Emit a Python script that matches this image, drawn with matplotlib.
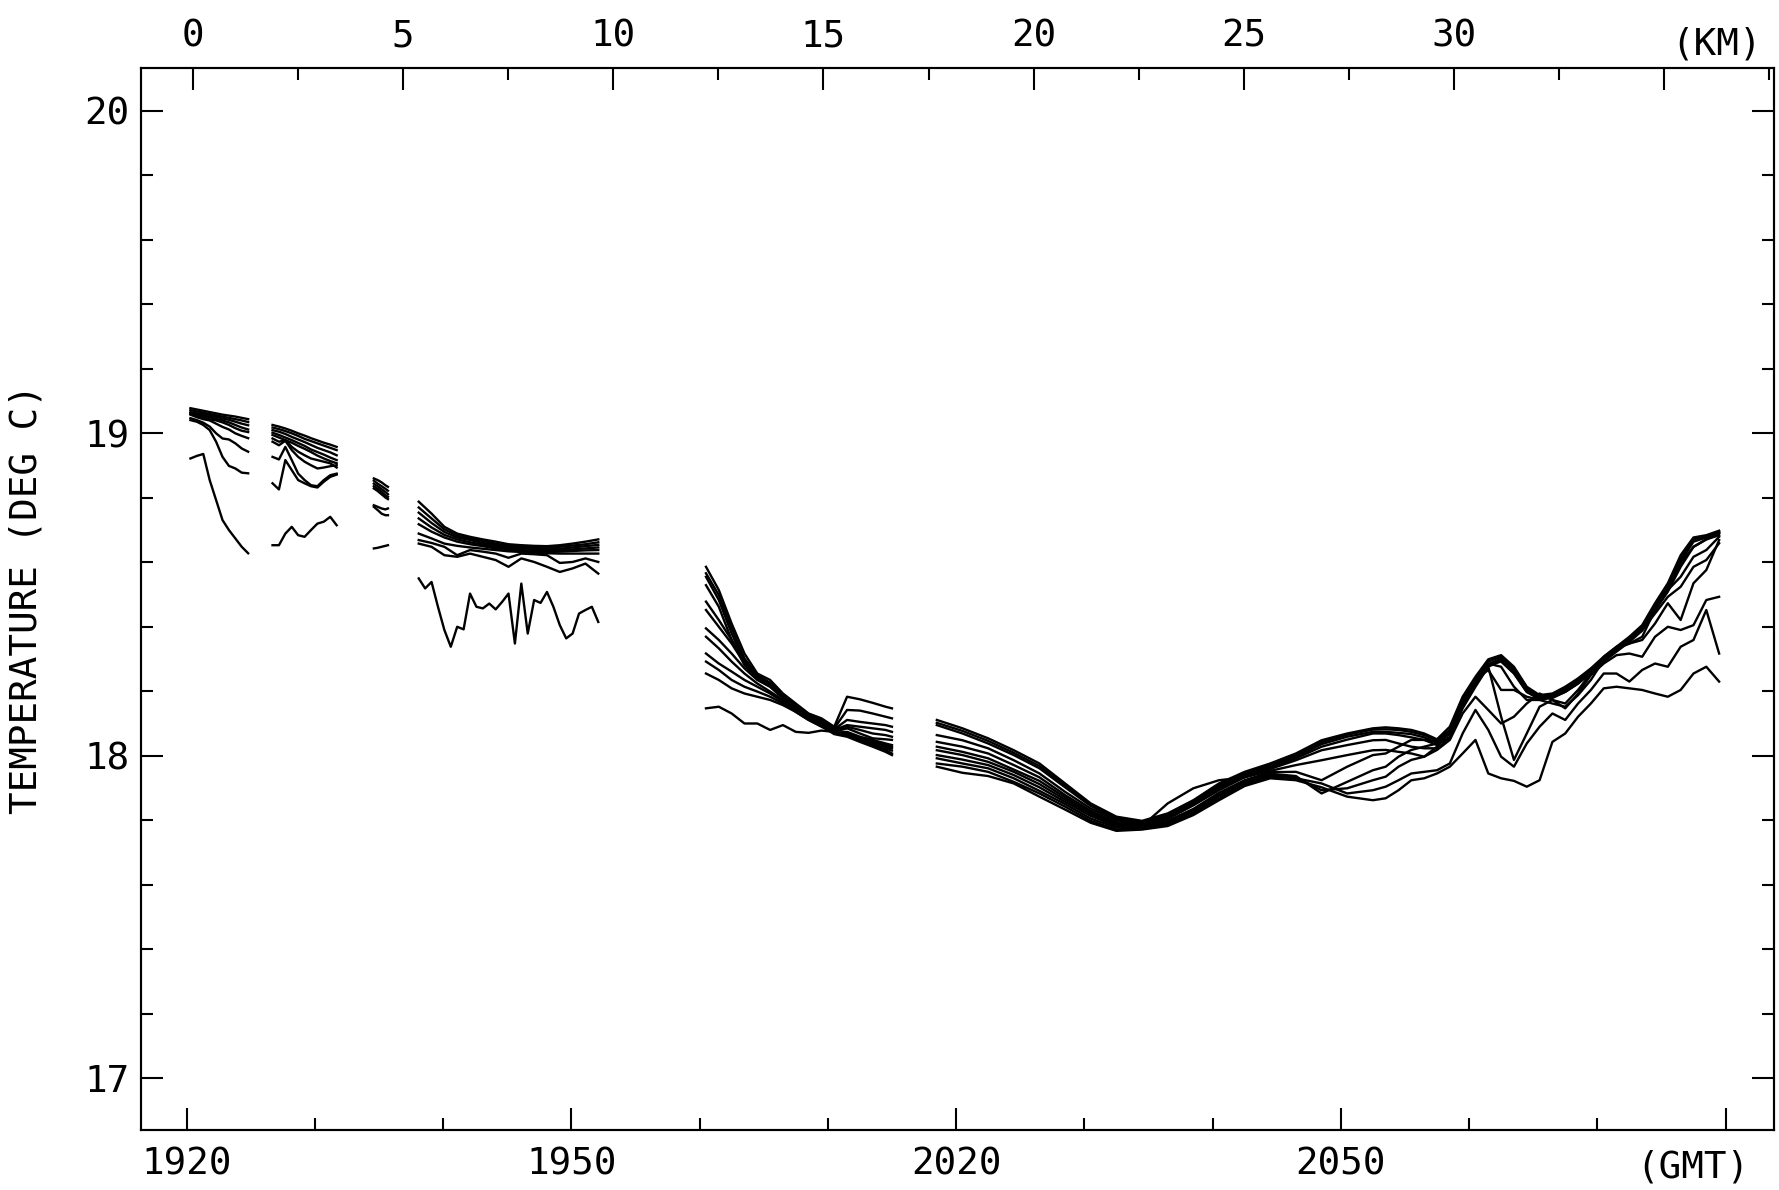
import matplotlib

matplotlib.use("Agg")
import matplotlib.pyplot as plt
from matplotlib.ticker import FixedLocator, MultipleLocator

# time axis in minutes after 19:00 GMT, temperature in deg C
# each segment: one time array, one row per sensor depth

seg_a_t = [20.3, 20.8, 21.3, 21.8, 22.3, 22.8, 23.3, 23.8, 24.3, 24.8]
seg_a = [
    [19.078, 19.074, 19.070, 19.066, 19.062, 19.058, 19.055, 19.052, 19.048, 19.044],
    [19.072, 19.068, 19.064, 19.060, 19.056, 19.052, 19.048, 19.044, 19.040, 19.035],
    [19.066, 19.062, 19.060, 19.055, 19.051, 19.046, 19.042, 19.036, 19.030, 19.025],
    [19.062, 19.058, 19.055, 19.050, 19.045, 19.040, 19.034, 19.026, 19.018, 19.012],
    [19.060, 19.054, 19.050, 19.044, 19.040, 19.034, 19.026, 19.016, 19.008, 19.004],
    [19.058, 19.050, 19.044, 19.040, 19.030, 19.020, 19.012, 19.000, 18.992, 18.985],
    [19.047, 19.041, 19.033, 19.021, 19.000, 18.984, 18.981, 18.969, 18.953, 18.943],
    [19.041, 19.036, 19.026, 19.010, 18.974, 18.927, 18.899, 18.891, 18.878, 18.876],
    [18.922, 18.930, 18.936, 18.855, 18.793, 18.731, 18.700, 18.674, 18.648, 18.628],
]

seg_b_t = [26.7, 27.2, 27.7, 28.2, 28.7, 29.2, 29.7, 30.2, 30.7, 31.2, 31.7]
seg_b = [
    [19.026, 19.021, 19.015, 19.008, 19.000, 18.993, 18.985, 18.978, 18.971, 18.965, 18.958],
    [19.018, 19.013, 19.007, 19.000, 18.992, 18.983, 18.976, 18.969, 18.962, 18.955, 18.948],
    [19.010, 19.005, 18.998, 18.989, 18.981, 18.973, 18.964, 18.955, 18.948, 18.941, 18.932],
    [19.002, 18.995, 18.987, 18.979, 18.970, 18.961, 18.950, 18.942, 18.934, 18.925, 18.917],
    [18.995, 18.987, 18.979, 18.971, 18.961, 18.952, 18.942, 18.931, 18.922, 18.914, 18.907],
    [18.984, 18.974, 18.979, 18.958, 18.943, 18.932, 18.922, 18.917, 18.912, 18.907, 18.894],
    [18.974, 18.963, 18.977, 18.948, 18.927, 18.912, 18.901, 18.891, 18.894, 18.898, 18.901],
    [18.927, 18.919, 18.958, 18.917, 18.875, 18.855, 18.839, 18.836, 18.855, 18.870, 18.875],
    [18.845, 18.826, 18.917, 18.886, 18.855, 18.845, 18.836, 18.832, 18.850, 18.865, 18.872],
    [18.653, 18.653, 18.689, 18.710, 18.684, 18.679, 18.700, 18.720, 18.726, 18.741, 18.715],
]

seg_c_t = [34.6, 34.9, 35.2, 35.5, 35.7]
seg_c = [
    [18.860, 18.855, 18.848, 18.839, 18.834],
    [18.853, 18.844, 18.836, 18.828, 18.822],
    [18.844, 18.836, 18.827, 18.818, 18.811],
    [18.836, 18.828, 18.819, 18.808, 18.803],
    [18.829, 18.821, 18.811, 18.801, 18.796],
    [18.777, 18.772, 18.767, 18.764, 18.767],
    [18.772, 18.762, 18.751, 18.746, 18.746],
    [18.643, 18.645, 18.648, 18.651, 18.653],
]

seg_d_t = [38.1, 39.1, 40.1, 41.1, 42.1, 43.1, 44.1, 45.1, 46.1, 47.1, 48.1, 49.1, 50.1, 51.1, 52.1]
seg_d = [
    [18.788, 18.751, 18.710, 18.689, 18.679, 18.671, 18.664, 18.656, 18.653, 18.651, 18.650, 18.653, 18.658, 18.664, 18.671],
    [18.770, 18.736, 18.702, 18.683, 18.674, 18.666, 18.658, 18.651, 18.648, 18.646, 18.645, 18.648, 18.652, 18.656, 18.662],
    [18.754, 18.722, 18.694, 18.677, 18.669, 18.660, 18.653, 18.646, 18.643, 18.641, 18.640, 18.642, 18.646, 18.650, 18.654],
    [18.736, 18.708, 18.685, 18.671, 18.662, 18.655, 18.648, 18.641, 18.638, 18.636, 18.635, 18.637, 18.640, 18.643, 18.646],
    [18.718, 18.695, 18.677, 18.664, 18.656, 18.650, 18.643, 18.637, 18.635, 18.633, 18.632, 18.633, 18.635, 18.637, 18.638],
    [18.689, 18.674, 18.658, 18.651, 18.646, 18.642, 18.638, 18.634, 18.632, 18.629, 18.628, 18.627, 18.627, 18.627, 18.627],
    [18.669, 18.660, 18.648, 18.622, 18.638, 18.633, 18.627, 18.614, 18.627, 18.625, 18.622, 18.598, 18.601, 18.612, 18.601],
    [18.658, 18.648, 18.622, 18.617, 18.627, 18.617, 18.607, 18.586, 18.612, 18.601, 18.586, 18.570, 18.581, 18.596, 18.565],
]
# deepest sensor in segment D is noisy, sampled twice as often
seg_d_fine_t = [38.1, 38.6, 39.1, 39.6, 40.1, 40.6, 41.1, 41.6, 42.1, 42.6, 43.1, 43.6, 44.1, 44.6, 45.1,
                45.6, 46.1, 46.6, 47.1, 47.6, 48.1, 48.6, 49.1, 49.6, 50.1, 50.6, 51.1, 51.6, 52.1]
seg_d_fine = [
    [18.550, 18.519, 18.539, 18.462, 18.390, 18.338, 18.400, 18.392, 18.503, 18.462, 18.457, 18.472, 18.454, 18.477, 18.503,
     18.348, 18.534, 18.379, 18.483, 18.474, 18.508, 18.462, 18.405, 18.364, 18.379, 18.441, 18.452, 18.462, 18.415],
]

seg_e_t = [60.5, 61.5, 62.5, 63.5, 64.5, 65.5, 66.5, 67.5, 68.5, 69.5, 70.5, 71.5, 72.5, 73.5, 74.5, 75.0]
seg_e = [
    [18.586, 18.514, 18.410, 18.317, 18.255, 18.235, 18.193, 18.162, 18.131, 18.116, 18.090, 18.183, 18.175, 18.164, 18.152, 18.147],
    [18.566, 18.498, 18.395, 18.302, 18.250, 18.226, 18.188, 18.157, 18.126, 18.111, 18.085, 18.142, 18.140, 18.131, 18.121, 18.116],
    [18.555, 18.483, 18.379, 18.292, 18.245, 18.222, 18.185, 18.154, 18.123, 18.105, 18.082, 18.111, 18.105, 18.100, 18.095, 18.090],
    [18.529, 18.462, 18.359, 18.281, 18.237, 18.214, 18.181, 18.152, 18.121, 18.102, 18.080, 18.095, 18.090, 18.085, 18.080, 18.074],
    [18.478, 18.421, 18.359, 18.297, 18.250, 18.224, 18.188, 18.157, 18.126, 18.100, 18.078, 18.090, 18.080, 18.069, 18.064, 18.059],
    [18.452, 18.400, 18.348, 18.286, 18.245, 18.219, 18.183, 18.152, 18.121, 18.098, 18.074, 18.085, 18.069, 18.054, 18.051, 18.049],
    [18.395, 18.359, 18.317, 18.271, 18.235, 18.214, 18.178, 18.147, 18.119, 18.095, 18.071, 18.074, 18.059, 18.049, 18.038, 18.033],
    [18.369, 18.333, 18.292, 18.255, 18.224, 18.199, 18.173, 18.142, 18.116, 18.095, 18.069, 18.064, 18.051, 18.038, 18.028, 18.023],
    [18.317, 18.286, 18.261, 18.235, 18.214, 18.193, 18.167, 18.136, 18.111, 18.092, 18.067, 18.059, 18.043, 18.028, 18.012, 18.002],
    [18.292, 18.266, 18.235, 18.214, 18.199, 18.183, 18.162, 18.142, 18.116, 18.095, 18.074, 18.069, 18.054, 18.043, 18.033, 18.028],
    [18.255, 18.235, 18.209, 18.193, 18.183, 18.173, 18.157, 18.136, 18.111, 18.090, 18.071, 18.061, 18.047, 18.036, 18.023, 18.016],
    [18.147, 18.152, 18.131, 18.100, 18.100, 18.080, 18.095, 18.074, 18.071, 18.078, 18.074, 18.064, 18.049, 18.033, 18.018, 18.007],
]

seg_f_t = [78.5, 80.5, 82.5, 84.5, 86.5, 88.5, 90.5, 92.5, 94.5, 96.5, 98.5, 100.5, 102.5, 104.5, 106.5, 108.5,
           110.5, 112.5, 113.5, 114.5, 115.5, 116.5, 117.5, 118.5, 119.5, 120.5, 121.5, 122.5, 123.5, 124.5,
           125.5, 126.5, 127.5, 128.5, 129.5, 130.5, 131.5, 132.5, 133.5, 134.5, 135.5, 136.5, 137.5, 138.5, 139.5]
seg_f = [
    [18.111, 18.085, 18.054, 18.017, 17.976, 17.914, 17.852, 17.811, 17.798, 17.821, 17.862, 17.914, 17.950, 17.976, 18.007, 18.048,
     18.069, 18.085, 18.088, 18.085, 18.080, 18.069, 18.051, 18.090, 18.183, 18.245, 18.299, 18.312, 18.276, 18.214,
     18.188, 18.193, 18.214, 18.240, 18.271, 18.307, 18.338, 18.369, 18.405, 18.473, 18.535, 18.622, 18.677, 18.684, 18.698],
    [18.102, 18.077, 18.046, 18.009, 17.968, 17.908, 17.848, 17.807, 17.795, 17.817, 17.858, 17.909, 17.945, 17.971, 18.001, 18.042,
     18.065, 18.081, 18.082, 18.080, 18.074, 18.064, 18.047, 18.080, 18.173, 18.235, 18.292, 18.307, 18.271, 18.209,
     18.183, 18.188, 18.209, 18.235, 18.266, 18.302, 18.333, 18.364, 18.400, 18.464, 18.526, 18.612, 18.671, 18.681, 18.695],
    [18.095, 18.069, 18.038, 18.002, 17.961, 17.902, 17.844, 17.803, 17.792, 17.813, 17.854, 17.904, 17.941, 17.967, 17.997, 18.036,
     18.059, 18.074, 18.074, 18.071, 18.067, 18.057, 18.040, 18.069, 18.160, 18.224, 18.284, 18.301, 18.266, 18.204,
     18.179, 18.183, 18.204, 18.230, 18.261, 18.297, 18.328, 18.359, 18.394, 18.457, 18.518, 18.602, 18.664, 18.677, 18.692],
    [18.064, 18.048, 18.023, 17.986, 17.945, 17.888, 17.836, 17.800, 17.788, 17.809, 17.850, 17.899, 17.937, 17.963, 17.992, 18.028,
     18.050, 18.069, 18.069, 18.064, 18.057, 18.049, 18.033, 18.059, 18.147, 18.214, 18.276, 18.295, 18.257, 18.198,
     18.175, 18.179, 18.198, 18.224, 18.255, 18.292, 18.323, 18.353, 18.388, 18.450, 18.509, 18.586, 18.648, 18.671, 18.690],
    [18.043, 18.028, 18.007, 17.971, 17.933, 17.878, 17.829, 17.794, 17.785, 17.804, 17.846, 17.893, 17.933, 17.959, 17.986, 18.017,
     18.033, 18.048, 18.049, 18.038, 18.028, 18.023, 18.023, 18.054, 18.152, 18.219, 18.281, 18.292, 18.255, 18.198,
     18.178, 18.183, 18.204, 18.230, 18.264, 18.299, 18.328, 18.361, 18.395, 18.462, 18.519, 18.597, 18.648, 18.671, 18.684],
    [18.028, 18.012, 17.992, 17.957, 17.922, 17.871, 17.823, 17.790, 17.782, 17.852, 17.899, 17.924, 17.933, 17.953, 17.971, 17.986,
     18.002, 18.017, 18.018, 18.012, 18.007, 17.997, 18.028, 18.080, 18.162, 18.235, 18.276, 18.121, 17.987, 18.069,
     18.152, 18.173, 18.162, 18.204, 18.255, 18.307, 18.338, 18.359, 18.390, 18.441, 18.493, 18.524, 18.586, 18.607, 18.659],
    [18.017, 18.002, 17.981, 17.950, 17.912, 17.864, 17.819, 17.786, 17.780, 17.798, 17.835, 17.885, 17.924, 17.949, 17.950, 17.924,
     17.966, 18.002, 18.007, 18.028, 18.049, 18.049, 18.043, 18.069, 18.162, 18.230, 18.286, 18.276, 18.214, 18.173,
     18.173, 18.183, 18.198, 18.224, 18.261, 18.297, 18.333, 18.348, 18.369, 18.452, 18.514, 18.555, 18.617, 18.638, 18.679],
    [18.002, 17.988, 17.971, 17.940, 17.902, 17.857, 17.813, 17.782, 17.778, 17.794, 17.831, 17.879, 17.919, 17.944, 17.937, 17.883,
     17.919, 17.955, 17.966, 17.997, 18.018, 18.028, 18.038, 18.069, 18.173, 18.235, 18.266, 18.204, 18.204, 18.183,
     18.173, 18.162, 18.152, 18.188, 18.235, 18.297, 18.333, 18.348, 18.359, 18.410, 18.473, 18.421, 18.535, 18.576, 18.669],
    [17.992, 17.976, 17.961, 17.930, 17.891, 17.850, 17.805, 17.777, 17.775, 17.790, 17.826, 17.873, 17.915, 17.939, 17.933, 17.893,
     17.899, 17.924, 17.935, 17.966, 17.987, 17.997, 18.018, 18.049, 18.131, 18.183, 18.142, 18.100, 18.121, 18.162,
     18.193, 18.173, 18.147, 18.193, 18.250, 18.286, 18.312, 18.317, 18.307, 18.369, 18.400, 18.390, 18.405, 18.483, 18.493],
    [17.976, 17.966, 17.950, 17.919, 17.883, 17.842, 17.798, 17.771, 17.773, 17.786, 17.821, 17.866, 17.911, 17.935, 17.930, 17.914,
     17.883, 17.893, 17.904, 17.924, 17.945, 17.950, 17.955, 17.976, 18.069, 18.142, 18.080, 17.997, 17.966, 18.038,
     18.090, 18.131, 18.111, 18.162, 18.204, 18.255, 18.255, 18.230, 18.266, 18.286, 18.276, 18.338, 18.359, 18.452, 18.317],
    [17.966, 17.947, 17.937, 17.914, 17.873, 17.833, 17.792, 17.767, 17.771, 17.782, 17.816, 17.862, 17.906, 17.930, 17.924, 17.902,
     17.873, 17.862, 17.868, 17.893, 17.924, 17.930, 17.945, 17.966, 18.007, 18.049, 17.945, 17.930, 17.922, 17.904,
     17.924, 18.043, 18.069, 18.121, 18.162, 18.209, 18.214, 18.209, 18.204, 18.193, 18.183, 18.204, 18.255, 18.276, 18.230],
]

segments = [
    (seg_a_t, seg_a), (seg_b_t, seg_b), (seg_c_t, seg_c), (seg_d_t, seg_d),
    (seg_d_fine_t, seg_d_fine), (seg_e_t, seg_e), (seg_f_t, seg_f),
]

gmt_ticks = [20, 50, 80, 110, 140]
gmt_labels = ["1920", "1950", "2020", "2050", ""]
km_ticks = [0, 5, 10, 15, 20, 25, 30, 35]
km_labels = ["0", "5", "10", "15", "20", "25", "30", ""]
temp_ticks = [17, 18, 19, 20]

FONT = "DejaVu Sans Mono"
FS = 27

fig = plt.figure(figsize=(17.79, 11.90), dpi=100)
ax = fig.add_axes([0.0793, 0.0504, 0.9179, 0.8924])

for t, rows in segments:
    for row in rows:
        ax.plot(t, row, color="black", lw=1.7, solid_joinstyle="round")

ax.set_xlim(16.45, 143.78)
ax.set_ylim(16.839, 20.133)

ax.xaxis.set_major_locator(FixedLocator(gmt_ticks))
ax.set_xticklabels(gmt_labels)
ax.xaxis.set_minor_locator(FixedLocator([30, 40, 60, 70, 90, 100, 120, 130]))
ax.yaxis.set_major_locator(FixedLocator(temp_ticks))
ax.yaxis.set_minor_locator(MultipleLocator(0.2))
ax.tick_params(which="both", direction="in", width=1.5, top=False, right=True)
ax.tick_params(which="major", length=16)
ax.tick_params(which="minor", length=8.5)
ax.tick_params(axis="x", pad=12)
ax.tick_params(axis="y", pad=8)
for lab in ax.get_xticklabels() + ax.get_yticklabels():
    lab.set_fontfamily(FONT)
    lab.set_fontsize(FS)

ax.set_ylabel("TEMPERATURE (DEG C)", fontfamily=FONT, fontsize=FS)
ax.yaxis.set_label_coords(-0.059, 0.5)

# distance along track on the top axis
ax2 = ax.twiny()
ax2.set_xlim(-1.237, 37.617)
ax2.xaxis.set_major_locator(FixedLocator(km_ticks))
ax2.set_xticklabels(km_labels)
ax2.xaxis.set_minor_locator(MultipleLocator(2.5))
ax2.tick_params(which="both", direction="in", width=1.5, pad=10)
ax2.tick_params(which="major", length=16)
ax2.tick_params(which="minor", length=8.5)
for lab in ax2.get_xticklabels():
    lab.set_fontfamily(FONT)
    lab.set_fontsize(FS)

for sp in list(ax.spines.values()) + list(ax2.spines.values()):
    sp.set_linewidth(1.5)

fig.text(0.9646, 0.963, "(KM)", fontfamily=FONT, fontsize=FS, ha="center", va="center")
fig.text(0.9517, 0.019, "(GMT)", fontfamily=FONT, fontsize=FS, ha="center", va="center")

fig.savefig("out.png", dpi=100, facecolor="white")
